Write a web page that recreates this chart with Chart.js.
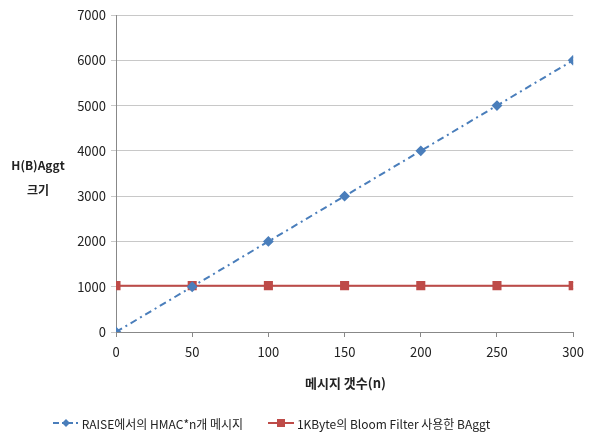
<!DOCTYPE html>
<html>
<head>
<meta charset="utf-8">
<script src="https://cdn.jsdelivr.net/npm/chart.js@4/dist/chart.umd.min.js"></script>
<style>
  body { margin: 0; background: #fff; }
  #wrap { position: relative; width: 591px; height: 436px; font-family: "Noto Sans CJK KR", "Noto Sans", sans-serif; color: #222; }
  #yTitle { position: absolute; left: 6px; top: 152px; width: 64px; text-align: center; font-weight: bold; font-size: 12px; line-height: 25px; }
  #xTitle { position: absolute; left: 116px; width: 459px; top: 373px; text-align: center; font-weight: bold; font-size: 13px; }
  #legend { position: absolute; left: 0; width: 543px; top: 414px; text-align: center; font-size: 12px; white-space: nowrap; }
  .item { display: inline-flex; align-items: center; margin: 0 11px; }
  .item svg { margin-right: 3px; }
</style>
</head>
<body>
<div id="wrap">
  <canvas id="myChart" width="591" height="436"></canvas>
  <div id="yTitle">H(B)Aggt<br>크기</div>
  <div id="xTitle">메시지 갯수(n)</div>
  <div id="legend">
    <span class="item"><svg width="26" height="10"><line x1="0" y1="5" x2="26" y2="5" stroke="#4a7ebb" stroke-width="2" stroke-dasharray="6,3,2,3"/><polygon points="13,1 17,5 13,9 9,5" fill="#4a7ebb"/></svg>RAISE에서의 HMAC*n개 메시지</span>
    <span class="item"><svg width="26" height="10"><line x1="0" y1="5" x2="26" y2="5" stroke="#be4b48" stroke-width="2"/><rect x="9" y="1" width="8" height="8" fill="#be4b48"/></svg>1KByte의 Bloom Filter 사용한 BAggt</span>
  </div>
</div>
<script>
// x: number of messages, y: size
const nValues = [0, 50, 100, 150, 200, 250, 300];
const hmacSizes = [0, 1000, 2000, 3000, 4000, 5000, 6000];
const bloomSizes = [1024, 1024, 1024, 1024, 1024, 1024, 1024];
const seriesNames = ['RAISE에서의 HMAC*n개 메시지', '1KByte의 Bloom Filter 사용한 BAggt'];

const toPoints = (ys) => nValues.map((x, i) => ({ x: x, y: ys[i] }));

const data = {
  datasets: [{
    label: seriesNames[0],
    data: toPoints(hmacSizes),
    borderColor: '#4a7ebb',
    backgroundColor: '#4a7ebb',
    borderWidth: 2,
    borderDash: [7, 4, 2, 4],
    pointStyle: 'rectRot',
    pointRadius: 4,
    pointHoverRadius: 4
  },
  {
    label: seriesNames[1],
    data: toPoints(bloomSizes),
    borderColor: '#be4b48',
    backgroundColor: '#be4b48',
    borderWidth: 2,
    pointStyle: 'rect',
    pointRadius: 5,
    pointHoverRadius: 5
  }]
};

const tickFont = { family: '"Noto Sans CJK KR", "Noto Sans", sans-serif', size: 13 };

const config = {
  type: 'line',
  data,
  options: {
    responsive: false,
    animation: false,
    layout: { padding: { top: 15, right: 14, bottom: 0, left: 0 } },
    plugins: { legend: { display: false }, tooltip: { enabled: false } },
    scales: {
      x: {
        type: 'linear',
        min: 0,
        max: 300,
        afterFit: (scale) => { scale.height = 104; },
        ticks: { stepSize: 50, color: '#222', font: tickFont, padding: 7 },
        grid: { drawOnChartArea: false, tickLength: 5, color: '#888' },
        border: { color: '#888' }
      },
      y: {
        min: 0,
        max: 7000,
        afterFit: (scale) => { scale.width = 116; },
        ticks: { stepSize: 1000, color: '#222', font: tickFont, padding: 5, callback: (v) => String(v) },
        grid: { color: '#c8c8c8', tickLength: 5 },
        border: { color: '#888' }
      }
    }
  }
};

const myChart = new Chart(document.getElementById('myChart'), config);
</script>
</body>
</html>
